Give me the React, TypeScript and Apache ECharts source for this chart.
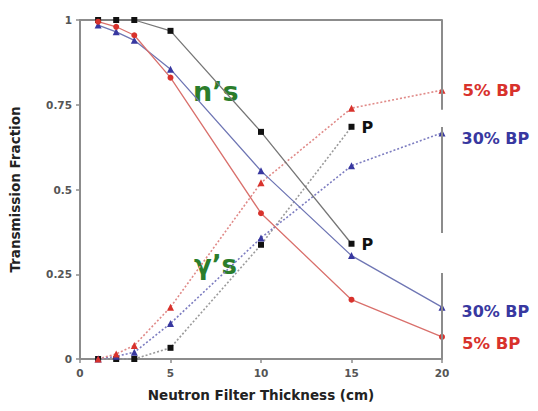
import React, { useEffect, useRef } from "react";
import * as echarts from "echarts";

// Filter thickness (cm) at which transmission was measured
const thickness = [1, 2, 3, 5, 10, 15, 20];

// Neutron transmission
const nPure = [1.0, 1.0, 1.0, 0.968, 0.67, 0.34];
const n30BP = [0.985, 0.965, 0.94, 0.855, 0.555, 0.305, 0.153];
const n5BP = [0.995, 0.98, 0.955, 0.83, 0.43, 0.175, 0.065];

// Gamma transmission
const gPure = [0.0, 0.0, 0.0, 0.033, 0.337, 0.685];
const g30BP = [0.0, 0.008, 0.02, 0.105, 0.357, 0.57, 0.667];
const g5BP = [0.0, 0.015, 0.04, 0.153, 0.52, 0.74, 0.793];

const xTicks = [0, 5, 10, 15, 20];
const yTicks = [0, 0.25, 0.5, 0.75, 1];

// Right-hand frame segments (gaps left open around the series labels)
const rightFrame = [
  [1, 0.735],
  [0.684, 0.372],
  [0.254, 0],
];

const RED = "#d8322c";
const BLUE = "#3838a0";
const BLACK = "#111111";
const GREEN = "#2b7d2b";
const FONT = "'DejaVu Sans', Verdana, sans-serif";

const pairs = (vals: number[]) => vals.map((v, i) => [thickness[i], v]);

function withEndLabel(
  vals: number[],
  text: string,
  color: string,
  size: number,
  offsetY: number,
  offsetX = 12
) {
  const data: any[] = pairs(vals);
  const last = data.length - 1;
  data[last] = {
    value: data[last],
    label: {
      show: true,
      position: "right",
      formatter: text,
      color,
      fontFamily: FONT,
      fontWeight: "bold",
      fontSize: size,
      offset: [offsetX, offsetY],
      overflow: "none",
      width: 90,
    },
  };
  return data;
}

function withP(vals: number[]) {
  const d: any[] = pairs(vals);
  const last = d.length - 1;
  d[last] = {
    value: d[last],
    label: {
      show: true,
      position: "right",
      formatter: "P",
      color: BLACK,
      fontFamily: FONT,
      fontWeight: "bold",
      fontSize: 16,
      offset: [2, 1],
    },
  };
  return d;
}

export default function App() {
  const ref = useRef<HTMLDivElement>(null);

  useEffect(() => {
    if (!ref.current) return;
    document.body.style.margin = "0";
    const chart = echarts.init(ref.current, undefined, { renderer: "svg" });

    const neutronLine = (color: string) => ({
      type: "line" as const,
      lineStyle: { color, width: 1.3 },
      z: 3,
    });
    const gammaLine = (color: string) => ({
      type: "line" as const,
      lineStyle: { color, width: 1.6, type: [2, 2] as any },
      z: 3,
    });

    chart.setOption({
      animation: false,
      backgroundColor: "#ffffff",
      grid: { left: 79, right: 96, top: 20, bottom: 52 },
      xAxis: [
        {
          type: "value",
          min: 0,
          max: 20,
          interval: 5,
          name: "Neutron Filter Thickness (cm)",
          nameLocation: "middle",
          nameGap: 29,
          nameTextStyle: {
            fontFamily: FONT,
            fontWeight: "bold",
            fontSize: 13.5,
            color: "#222",
          },
          axisLine: { lineStyle: { color: "#8c8c8c", width: 2 } },
          axisTick: { show: true, length: 4, lineStyle: { color: "#8c8c8c", width: 1.5 } },
          axisLabel: {
            fontFamily: FONT,
            fontWeight: "bold",
            fontSize: 10.5,
            color: "#555",
            margin: 8,
            formatter: (v: number) => (xTicks.includes(v) ? String(v) : ""),
          },
          splitLine: { show: false },
        },
        {
          type: "value",
          position: "top",
          min: 0,
          max: 20,
          interval: 5,
          axisLine: { show: true, lineStyle: { color: "#8c8c8c", width: 2 } },
          axisTick: { show: false },
          axisLabel: { show: false },
          splitLine: { show: false },
        },
      ],
      yAxis: {
        type: "value",
        min: 0,
        max: 1,
        interval: 0.25,
        name: "Transmission Fraction",
        nameLocation: "middle",
        nameGap: 58,
        nameTextStyle: {
          fontFamily: FONT,
          fontWeight: "bold",
          fontSize: 13.5,
          color: "#222",
        },
        axisLine: { show: true, lineStyle: { color: "#8c8c8c", width: 2 } },
        axisTick: { show: true, length: 4, lineStyle: { color: "#8c8c8c", width: 1.5 } },
        axisLabel: {
          fontFamily: FONT,
          fontWeight: "bold",
          fontSize: 10.5,
          color: "#555",
          margin: 8,
          formatter: (v: number) => (yTicks.includes(v) ? String(v) : ""),
        },
        splitLine: { show: false },
      },
      series: [
        // frame on the right
        {
          type: "line",
          data: [],
          silent: true,
          markLine: {
            symbol: "none",
            silent: true,
            label: { show: false },
            lineStyle: { color: "#8c8c8c", width: 2, type: "solid" },
            data: rightFrame.map(([a, b]) => [
              { coord: [20, a] },
              { coord: [20, b] },
            ]),
          },
        },
        // gamma curves (dotted)
        {
          ...gammaLine("#9a9a9a"),
          data: withP(gPure),
          symbol: "rect",
          symbolSize: 6,
          itemStyle: { color: BLACK },
        },
        {
          ...gammaLine("#7d7dc0"),
          data: withEndLabel(g30BP, "30% BP", BLUE, 16, 6, 11),
          symbol: "triangle",
          symbolSize: 7,
          itemStyle: { color: BLUE },
        },
        {
          ...gammaLine("#e08a88"),
          data: withEndLabel(g5BP, "5% BP", RED, 16.5, 0, 12),
          symbol: "triangle",
          symbolSize: 7,
          itemStyle: { color: RED },
        },
        // neutron curves (solid)
        {
          ...neutronLine("#777777"),
          data: withP(nPure),
          symbol: "rect",
          symbolSize: 6,
          itemStyle: { color: BLACK },
        },
        {
          ...neutronLine("#6f76b4"),
          data: withEndLabel(n30BP, "30% BP", BLUE, 16, 4, 11),
          symbol: "triangle",
          symbolSize: 7,
          itemStyle: { color: BLUE },
        },
        {
          ...neutronLine("#d9706c"),
          data: withEndLabel(n5BP, "5% BP", RED, 16.5, 7, 12),
          symbol: "circle",
          symbolSize: 6,
          itemStyle: { color: RED },
        },
      ],
      graphic: [
        {
          type: "text",
          left: 193,
          top: 78,
          style: {
            text: "n’s",
            fill: GREEN,
            font: `bold 27px ${FONT}`,
          },
        },
        {
          type: "text",
          left: 194,
          top: 252,
          style: {
            text: "γ’s",
            fill: GREEN,
            font: `bold 26px ${FONT}`,
          },
        },
      ],
    });

    return () => chart.dispose();
  }, []);

  return <div ref={ref} style={{ width: 538, height: 411 }} />;
}
